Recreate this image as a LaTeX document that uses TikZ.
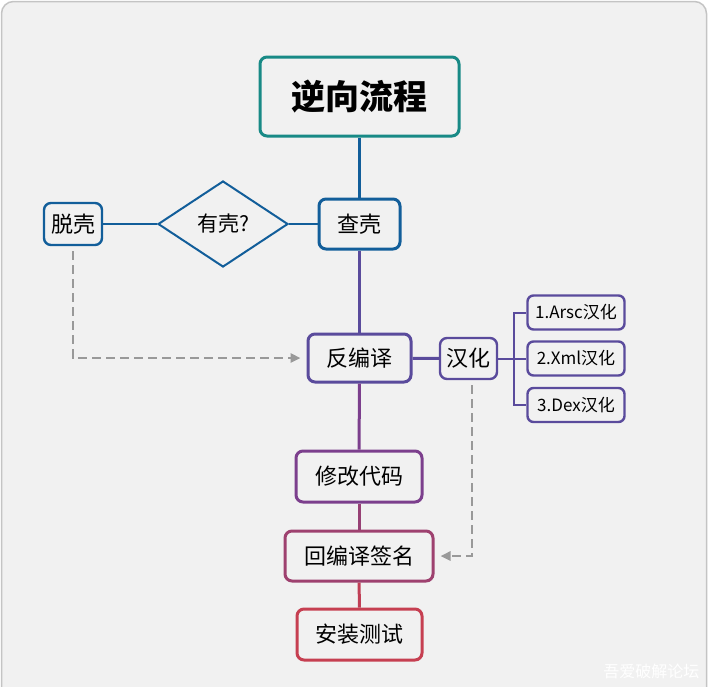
\documentclass[tikz,border=0pt]{standalone}
\usepackage{fontspec}
\setmainfont{Noto Sans CJK SC}
\usetikzlibrary{positioning}
\usetikzlibrary{arrows.meta,shapes.geometric}

\definecolor{panelbg}{HTML}{F1F1F1}
\definecolor{panelline}{HTML}{C4C4C4}
\definecolor{teal}{HTML}{188A86}
\definecolor{shellblue}{HTML}{125E9A}
\definecolor{decomp}{HTML}{5A4B9C}
\definecolor{modify}{HTML}{7C3F8D}
\definecolor{rebuild}{HTML}{9E416F}
\definecolor{install}{HTML}{C63F51}
\definecolor{dashgray}{HTML}{999999}

\begin{document}
\begin{tikzpicture}[x=1pt,y=-1pt,thick,
                step box/.style={rectangle,draw,rounded corners=7pt,line width=3pt,
                  inner sep=0pt,font=\fontsize{22}{26}\selectfont},
                small box/.style={rectangle,draw=decomp,rounded corners=6pt,line width=2.4pt,
                  inner sep=0pt,minimum width=97pt,minimum height=34pt,
                  font=\fontsize{17}{20}\selectfont},
                dash line/.style={draw=dashgray,line width=2.5pt,dash pattern=on 9pt off 5pt,
                  -{Triangle[length=10pt,width=9pt]},shorten <=5pt,shorten >=6pt}]

  % panel
  \useasboundingbox (0,0) rectangle (708,686);
  \draw[fill=panelbg,draw=panelline,line width=1.5pt,rounded corners=12pt]
    (1.5,1.5) rectangle (706.5,730);

  % main column
  \node[step box,draw=teal,minimum width=199pt,minimum height=79pt,
        font=\fontsize{34}{40}\selectfont\bfseries] (title) at (359.5,96.5) {逆向流程};
  \node[step box,draw=shellblue,minimum width=81pt,minimum height=50pt] (chake) at (359.5,224) {查壳};
  \node[step box,draw=decomp,minimum width=103pt,minimum height=48pt] (fanbianyi) at (359.5,358) {反编译};
  \node[step box,draw=modify,minimum width=126pt,minimum height=51pt] (xiugai) at (359,476.5) {修改代码};
  \node[step box,draw=rebuild,minimum width=148pt,minimum height=50pt] (huibianyi) at (359,556) {回编译签名};
  \node[step box,draw=install,minimum width=125pt,minimum height=51pt] (anzhuang) at (359.5,634.5) {安装测试};

  % shell branch
  \node[diamond,draw=shellblue,line width=2pt,inner sep=0pt,minimum width=130pt,minimum height=86pt,
        font=\fontsize{21}{24}\selectfont] (youke) at (223,224) {有壳?};
  \node[step box,draw=shellblue,line width=2.4pt,minimum width=58pt,minimum height=42pt] (tuoke) at (73,224) {脱壳};

  % localisation branch
  \node[step box,draw=decomp,line width=2.4pt,minimum width=57pt,minimum height=41pt] (hanhua) at (468.5,358.5) {汉化};
  \node[small box] (arsc) at (576,312.5) {1.Arsc汉化};
  \node[small box] (xml) at (576,358.5) {2.Xml汉化};
  \node[small box] (dex) at (576,405) {3.Dex汉化};
  \coordinate (fork) at (514,358.5);

  \path
    (title) edge [draw=shellblue,line width=3pt] (chake)
    (chake) edge [draw=decomp,line width=3pt] (fanbianyi)
    (fanbianyi) edge [draw=modify,line width=3pt] (xiugai)
    (xiugai) edge [draw=rebuild!80!modify,line width=3pt] (huibianyi)
    (huibianyi) edge [draw=install!85!rebuild,line width=3pt] (anzhuang)
    (tuoke) edge [draw=shellblue,line width=2pt] (youke)
    (youke) edge [draw=shellblue,line width=2pt] (chake)
    (fanbianyi) edge [draw=decomp,line width=3pt] (hanhua);

  \draw[draw=decomp,line width=2pt] (hanhua.east) -- (fork) -- (xml.west);
  \draw[draw=decomp,line width=2pt] (fork) |- (arsc.west);
  \draw[draw=decomp,line width=2pt] (fork) |- (dex.west);

  % dashed returns
  \draw[dash line] (tuoke.south) |- (fanbianyi.west);
  \draw[dash line] ([xshift=3.5pt]hanhua.south) |- (huibianyi.east);

  % watermark
  \node[anchor=north west,text=white,inner sep=0pt,font=\fontsize{16}{19}\selectfont] (mark) at (603,664) {吾爱破解论坛};

\end{tikzpicture}
\end{document}
